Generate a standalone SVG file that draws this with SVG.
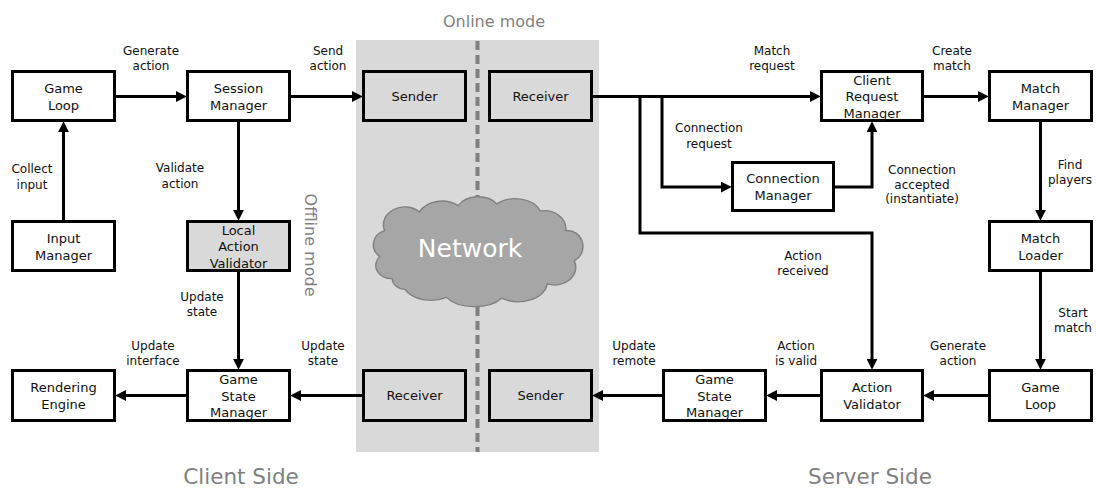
<svg xmlns="http://www.w3.org/2000/svg" width="1096" height="488" viewBox="0 0 1096 488">
<defs>
<marker id="arr" viewBox="0 0 10 10" markerUnits="userSpaceOnUse" markerWidth="11" markerHeight="11" refX="2" refY="5" orient="auto"><path d="M0,0 L10,5 L0,10 z" fill="#000"/></marker>
</defs>
<style>
.box{fill:#fff;stroke:#000;stroke-width:3}
.gbox{fill:#d9d9d9;stroke:#000;stroke-width:3}
.bt{font-family:"DejaVu Sans",Verdana,sans-serif;font-size:13px;fill:#111;text-anchor:middle}
.lb{font-family:"DejaVu Sans",Verdana,sans-serif;font-size:12px;fill:#111;text-anchor:middle}
.ti{font-family:"DejaVu Sans",Verdana,sans-serif;fill:#7f7f7f;text-anchor:middle}
.cn{fill:none;stroke:#000;stroke-width:3;marker-end:url(#arr)}
</style>
<rect x="0" y="0" width="1096" height="488" fill="#fff"/>
<g id="online-zone">
<rect x="356" y="40" width="243" height="412" fill="#d9d9d9"/>
<line x1="477.5" y1="41" x2="477.5" y2="452" stroke="#7f7f7f" stroke-width="4" stroke-dasharray="9 5"/>
<text class="ti" x="494" y="27" font-size="16">Online mode</text>
</g>
<g id="network">
<path transform="translate(478,251.5) scale(0.968,0.89) translate(-480.5,-251.5)" d="M392,282 A16,15 0 0 1 379,257 A18,17 0 0 1 384,228 A22,20 0 0 1 420,207 A26,22 0 0 1 460,200 A24,20 0 0 1 500,198 A28,22 0 0 1 545,206 A22,20 0 0 1 571,228 A16,18 0 0 1 580,262 A22,20 0 0 1 552,288 A30,22 0 0 1 505,304 A34,22 0 0 1 448,303 A30,22 0 0 1 405,294 A14,12 0 0 1 392,282 Z" fill="#a6a6a6" stroke="#808080" stroke-width="1.5"/>
<text x="470" y="257" font-family="DejaVu Sans,Verdana,sans-serif" font-size="25" fill="#fff" text-anchor="middle">Network</text>
</g>
<g id="labels-zones">
<text class="ti" font-size="16" transform="translate(310,245) rotate(90)" x="0" y="5.5">Offline mode</text>
<text class="ti" x="241" y="484" font-size="21.5">Client Side</text>
<text class="ti" x="870" y="484" font-size="21.5">Server Side</text>
</g>
<g id="connectors">
<path class="cn" d="M116,96.5 H178"/>
<path class="cn" d="M291,96.5 H354"/>
<path class="cn" d="M593,96.5 H812"/>
<path class="cn" d="M662,96.5 V187 H723"/>
<path class="cn" d="M640,96.5 V233 H872 V361"/>
<path class="cn" d="M835,187 H872 V130"/>
<path class="cn" d="M924,96.5 H980"/>
<path class="cn" d="M1040.5,122 V212"/>
<path class="cn" d="M1040.5,272 V361"/>
<path class="cn" d="M988,395.5 H932"/>
<path class="cn" d="M820,395.5 H775"/>
<path class="cn" d="M662,395.5 H601"/>
<path class="cn" d="M362,395.5 H299"/>
<path class="cn" d="M186,395.5 H124"/>
<path class="cn" d="M238.5,272 V361"/>
<path class="cn" d="M238.5,122 V212"/>
<path class="cn" d="M63.5,220 V130"/>
<text class="lb" x="151" y="55"><tspan x="151">Generate</tspan><tspan x="151" dy="14.5">action</tspan></text>
<text class="lb" x="328" y="55"><tspan x="328">Send</tspan><tspan x="328" dy="14.5">action</tspan></text>
<text class="lb" x="32" y="173"><tspan x="32">Collect</tspan><tspan x="32" dy="16">input</tspan></text>
<text class="lb" x="180" y="172"><tspan x="180">Validate</tspan><tspan x="180" dy="16">action</tspan></text>
<text class="lb" x="202" y="301"><tspan x="202">Update</tspan><tspan x="202" dy="15">state</tspan></text>
<text class="lb" x="153" y="350"><tspan x="153">Update</tspan><tspan x="153" dy="14.5">interface</tspan></text>
<text class="lb" x="323" y="350"><tspan x="323">Update</tspan><tspan x="323" dy="14.5">state</tspan></text>
<text class="lb" x="772" y="55"><tspan x="772">Match</tspan><tspan x="772" dy="14.5">request</tspan></text>
<text class="lb" x="952" y="55"><tspan x="952">Create</tspan><tspan x="952" dy="14.5">match</tspan></text>
<text class="lb" x="709" y="132"><tspan x="709">Connection</tspan><tspan x="709" dy="15.5">request</tspan></text>
<text class="lb" x="922" y="174"><tspan x="922">Connection</tspan><tspan x="922" dy="14.5">accepted</tspan><tspan x="922" dy="14.5">(instantiate)</tspan></text>
<text class="lb" x="1070" y="169"><tspan x="1070">Find</tspan><tspan x="1070" dy="14.5">players</tspan></text>
<text class="lb" x="803" y="260"><tspan x="803">Action</tspan><tspan x="803" dy="14.5">received</tspan></text>
<text class="lb" x="1073" y="317"><tspan x="1073">Start</tspan><tspan x="1073" dy="15">match</tspan></text>
<text class="lb" x="958" y="350"><tspan x="958">Generate</tspan><tspan x="958" dy="14.5">action</tspan></text>
<text class="lb" x="796" y="350"><tspan x="796">Action</tspan><tspan x="796" dy="14.5">is valid</tspan></text>
<text class="lb" x="634" y="350"><tspan x="634">Update</tspan><tspan x="634" dy="15">remote</tspan></text>
</g>
<g id="game-loop-client"><rect class="box" x="12.5" y="71.5" width="102" height="49"/><text class="bt" y="92.5"><tspan x="63.5">Game</tspan><tspan x="63.5" dy="17">Loop</tspan></text></g>
<g id="session-manager"><rect class="box" x="187.5" y="71.5" width="102" height="49"/><text class="bt" y="92.5"><tspan x="238.5">Session</tspan><tspan x="238.5" dy="17">Manager</tspan></text></g>
<g id="input-manager"><rect class="box" x="12.5" y="221.5" width="102" height="49"/><text class="bt" y="242.5"><tspan x="63.5">Input</tspan><tspan x="63.5" dy="17">Manager</tspan></text></g>
<g id="local-action-validator"><rect class="gbox" x="187.5" y="221.5" width="102" height="49"/><text class="bt" y="234.5"><tspan x="238.5">Local</tspan><tspan x="238.5" dy="16.5">Action</tspan><tspan x="238.5" dy="16.5">Validator</tspan></text></g>
<g id="rendering-engine"><rect class="box" x="12.5" y="370.5" width="102" height="50"/><text class="bt" y="392"><tspan x="63.5">Rendering</tspan><tspan x="63.5" dy="17">Engine</tspan></text></g>
<g id="game-state-manager-client"><rect class="box" x="187.5" y="370.5" width="102" height="50"/><text class="bt" y="384"><tspan x="238.5">Game</tspan><tspan x="238.5" dy="16.5">State</tspan><tspan x="238.5" dy="16.5">Manager</tspan></text></g>
<g id="sender-client"><rect class="gbox" x="363.5" y="71.5" width="102" height="49"/><text class="bt" x="414.5" y="101">Sender</text></g>
<g id="receiver-server"><rect class="gbox" x="489.5" y="71.5" width="102" height="49"/><text class="bt" x="540.5" y="101">Receiver</text></g>
<g id="receiver-client"><rect class="gbox" x="363.5" y="370.5" width="102" height="50"/><text class="bt" x="414.5" y="400">Receiver</text></g>
<g id="sender-server"><rect class="gbox" x="489.5" y="370.5" width="102" height="50"/><text class="bt" x="540.5" y="400">Sender</text></g>
<g id="client-request-manager"><rect class="box" x="821.5" y="71.5" width="101" height="49"/><text class="bt" y="84.5"><tspan x="872">Client</tspan><tspan x="872" dy="16.5">Request</tspan><tspan x="872" dy="16.5">Manager</tspan></text></g>
<g id="match-manager"><rect class="box" x="989.5" y="71.5" width="102" height="49"/><text class="bt" y="92.5"><tspan x="1040.5">Match</tspan><tspan x="1040.5" dy="17">Manager</tspan></text></g>
<g id="connection-manager"><rect class="box" x="732.5" y="162.5" width="101" height="48"/><text class="bt" y="183"><tspan x="783">Connection</tspan><tspan x="783" dy="16.5">Manager</tspan></text></g>
<g id="match-loader"><rect class="box" x="989.5" y="221.5" width="102" height="49"/><text class="bt" y="242.5"><tspan x="1040.5">Match</tspan><tspan x="1040.5" dy="17">Loader</tspan></text></g>
<g id="game-loop-server"><rect class="box" x="989.5" y="370.5" width="102" height="50"/><text class="bt" y="392"><tspan x="1040.5">Game</tspan><tspan x="1040.5" dy="17">Loop</tspan></text></g>
<g id="action-validator"><rect class="box" x="821.5" y="370.5" width="101" height="50"/><text class="bt" y="392"><tspan x="872">Action</tspan><tspan x="872" dy="17">Validator</tspan></text></g>
<g id="game-state-manager-server"><rect class="box" x="663.5" y="370.5" width="102" height="50"/><text class="bt" y="384"><tspan x="714.5">Game</tspan><tspan x="714.5" dy="16.5">State</tspan><tspan x="714.5" dy="16.5">Manager</tspan></text></g>
</svg>
